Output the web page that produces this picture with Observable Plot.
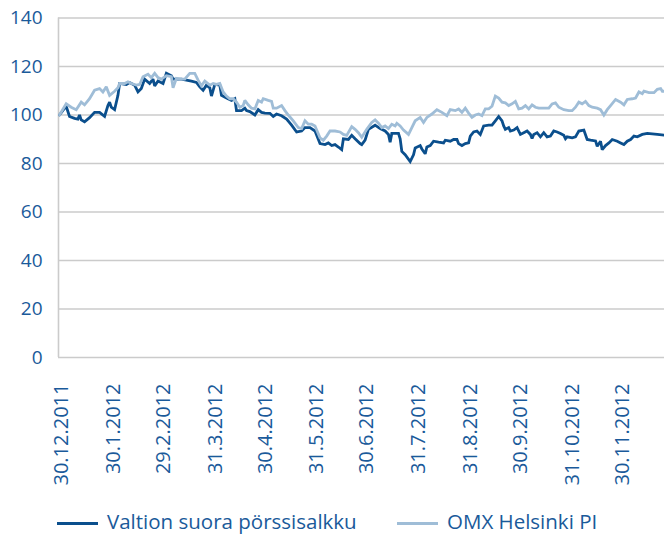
<!DOCTYPE html>
<html>
<head>
<meta charset="utf-8">
<script src="https://cdn.jsdelivr.net/npm/d3@7"></script>
<script src="https://cdn.jsdelivr.net/npm/@observablehq/plot@0.6"></script>
<style>
  body { margin: 0; background: #fff; }
  #wrap { position: relative; width: 664px; height: 534px; font-family: "Open Sans", sans-serif; overflow: hidden; }
  .leg { position: absolute; top: 507px; font-size: 20.5px; line-height: 28px; color: #1a5a9a; white-space: nowrap; }
  .sw { display: inline-block; width: 41px; height: 3px; vertical-align: middle; margin-right: 9px; }
</style>
</head>
<body>
<div id="wrap"></div>
<script>
// Series names
const seriesNames = ["Valtion suora pörssisalkku", "OMX Helsinki PI"];

// X tick labels (month-end dates)
const tickLabels = ["30.12.2011", "30.1.2012", "29.2.2012", "31.3.2012", "30.4.2012", "31.5.2012",
  "30.6.2012", "31.7.2012", "31.8.2012", "30.9.2012", "31.10.2012", "30.11.2012"];

// Y ticks
const yTicks = [0, 20, 40, 60, 80, 100, 120, 140];

// Valtion suora pörssisalkku: days since 30.12.2011 and index values
const valtionDays = [0,4,6,9,11,12,13,15,18,21,24,27,29,30,31,33,35,36,40,42,45,47,49,51,54,56,57,59,62,64,67,68,73,76,79,82,84,86,88,90,91,93,96,97,100,103,105,106,109,111,112,114,117,119,121,123,126,128,130,133,136,139,142,145,147,150,153,156,159,161,163,165,167,169,170,173,175,177,180,181,183,185,189,192,195,197,198,199,203,204,205,207,210,212,213,216,217,219,220,222,224,227,230,231,234,236,238,239,241,243,245,246,248,250,252,254,257,259,261,263,265,266,267,269,270,272,274,276,278,280,282,283,284,286,288,290,292,294,296,298,300,302,303,304,307,309,311,314,316,318,321,322,324,325,327,329,331,334,336,338,340,342,344,346,349,352,358,363];
const valtionValues = [100,103.6,99.4,98.6,98.3,100.0,98.0,97.2,98.9,101.1,101.1,99.4,103.9,105.3,103.2,102.2,108.1,113.0,112.6,113.4,112.3,109.5,110.9,114.8,113.0,114.8,112.0,114.0,113.0,117.2,116.2,114.8,114.8,114.4,114.0,113.4,111.6,110.2,112.3,111.2,107.8,112.6,112.3,108.1,107.0,106.0,106.7,101.8,101.8,102.8,101.8,101.4,100.0,102.2,101.1,100.8,100.7,99.4,100.4,99.7,98.3,95.8,93.0,93.4,94.8,94.8,93.4,88.2,87.8,88.5,87.4,87.8,86.8,85.7,90.2,89.9,91.6,90.2,88.2,87.8,89.6,94.1,95.8,94.4,93.4,92.0,88.8,92.4,92.4,90.2,85.0,83.6,80.8,83.6,86.4,87.4,86.0,84.0,86.8,87.4,89.2,88.8,88.5,89.6,89.2,89.9,89.9,88.2,87.4,88.2,88.5,91.3,93.0,93.4,92.0,95.5,95.8,95.8,97.6,99.4,97.6,95.5,94.1,94.8,93.4,93.8,94.8,92.0,92.7,93.4,92.0,90.3,92.0,92.7,91.0,92.7,91.0,91.3,93.4,93.0,92.4,91.6,90.2,91.0,90.6,91.0,93.4,93.8,89.9,89.6,89.3,87.1,89.2,85.7,87.4,88.5,89.9,89.2,88.5,87.8,89.2,89.9,91.3,91.0,92.0,92.4,92.0,91.6];

// OMX Helsinki PI: days since 30.12.2011 and index values
const omxDays = [0,4,7,10,13,15,18,21,24,26,28,30,33,35,36,39,41,43,46,48,50,53,55,57,59,61,64,67,68,70,72,75,78,81,83,85,87,90,92,94,96,98,100,102,104,106,108,110,111,113,115,117,119,121,122,125,127,128,130,133,135,137,140,143,145,147,149,151,153,156,158,160,162,165,168,170,172,175,177,179,181,184,187,189,191,193,195,197,199,201,202,204,206,209,211,213,216,218,220,223,226,229,232,234,237,239,241,243,245,247,249,251,253,255,257,259,261,263,265,267,269,271,273,275,277,279,281,283,285,287,290,293,295,297,299,302,305,307,309,311,313,315,317,319,322,324,326,328,330,333,336,338,340,343,345,347,349,350,353,356,358,360,361,363];
const omxValues = [100,104.6,103.2,102.2,105.3,104.2,106.7,110.2,110.9,109.5,111.6,108.1,109.8,111.2,113.0,113.0,113.7,113.0,112.3,112.6,115.8,116.8,115.4,117.2,115.4,114.8,116.2,115.8,111.2,115.1,114.8,114.8,117.2,117.2,114.4,112.0,114.0,112.3,113.0,112.6,113.0,109.5,107.8,106.7,106.7,105.3,103.2,103.9,106.0,104.2,102.8,102.5,106.0,105.3,106.7,106.0,105.6,102.8,102.8,103.9,101.8,100.0,97.6,94.8,94.4,97.6,96.2,96.2,95.5,90.6,89.6,91.3,93.4,93.4,93.0,92.0,91.6,95.2,94.1,92.7,90.8,94.1,96.9,98.0,96.6,94.8,95.5,94.4,96.2,95.5,96.6,95.5,93.8,92.0,94.8,97.6,99.0,96.9,99.0,100.4,102.2,101.1,99.7,102.2,101.8,102.5,101.1,102.8,100.8,99.0,100.0,100.4,99.7,102.5,102.5,103.6,107.8,107.0,105.3,105.0,103.9,104.6,105.6,102.5,102.8,103.9,102.5,104.2,103.2,102.8,102.8,102.8,104.6,105.0,103.2,102.2,101.8,101.8,103.2,105.3,104.6,105.6,103.9,103.2,102.8,102.2,100.0,102.2,103.9,106.4,105.3,104.2,106.4,106.7,107.0,109.5,108.8,109.8,109.2,109.2,110.6,110.9,109.8,109.8];

const colors = ["#0b4f8d", "#9fbdd7"];
const textColor = "#1a5a9a";
const gridColor = "#cbcbcb";

const startMs = Date.UTC(2011, 11, 30);
const dayToDate = d => new Date(startMs + d * 86400000);
const parseDMY = s => { const [d, m, y] = s.split(".").map(Number); return new Date(Date.UTC(y, m - 1, d)); };

const valtion = valtionDays.map((d, i) => ({date: dayToDate(d), value: valtionValues[i]}));
const omx = omxDays.map((d, i) => ({date: dayToDate(d), value: omxValues[i]}));

const x0 = dayToDate(-0.6);
const plot = Plot.plot({
  width: 664,
  height: 508,
  marginLeft: 58,
  marginRight: 0,
  marginTop: 17.5,
  marginBottom: 151,
  style: {fontFamily: "'Open Sans', sans-serif", background: "transparent", overflow: "hidden"},
  x: {type: "utc", domain: [x0, dayToDate(362.3)], axis: null},
  y: {domain: [0, 140], axis: null},
  marks: [
    Plot.ruleY(yTicks, {stroke: gridColor, strokeWidth: 1.6}),
    Plot.ruleX([x0], {y1: 0, y2: 140, stroke: gridColor, strokeWidth: 1.6}),
    Plot.axisY({ticks: yTicks, tickSize: 0, tickPadding: 16, fontSize: 19, color: textColor, label: null, tickFormat: d => String(d)}),
    Plot.text(tickLabels, {x: s => parseDMY(s), text: d => d, frameAnchor: "bottom", rotate: -90,
      textAnchor: "end", lineAnchor: "middle", dy: 26, dx: 2, fontSize: 20, fill: textColor}),
    Plot.line(valtion, {x: "date", y: "value", stroke: colors[0], strokeWidth: 2.8, strokeLinejoin: "miter", strokeMiterlimit: 2}),
    Plot.line(omx, {x: "date", y: "value", stroke: colors[1], strokeWidth: 2.8, strokeLinejoin: "miter", strokeMiterlimit: 2})
  ]
});
const wrap = document.getElementById("wrap");
wrap.appendChild(plot);

const legendLefts = [57, 397];
seriesNames.forEach((name, i) => {
  const item = document.createElement("div");
  item.className = "leg";
  item.style.left = legendLefts[i] + "px";
  const sw = document.createElement("span");
  sw.className = "sw";
  sw.style.background = colors[i];
  item.appendChild(sw);
  item.appendChild(document.createTextNode(name));
  wrap.appendChild(item);
});
</script>
</body>
</html>
